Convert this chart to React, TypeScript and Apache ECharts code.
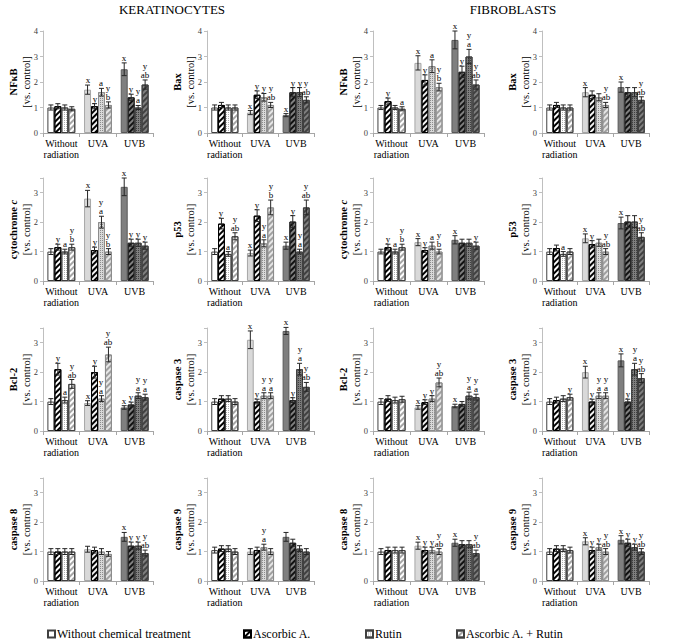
import React, { useEffect, useRef } from 'react';
import * as echarts from 'echarts';

const groups = ['Without\nradiation', 'UVA', 'UVB'];
const treatments = ['Without chemical treatment', 'Ascorbic A.', 'Rutin', 'Ascorbic A. + Rutin'];
const cellTitles = ['KERATINOCYTES', 'FIBROBLASTS'];
const rowMax = [4, 3.5, 3.5, 3.5];

// values[group][treatment]
const kNFkB = [[1.0, 1.05, 1.0, 0.95], [1.7, 1.05, 1.6, 1.1], [2.5, 1.4, 1.0, 1.9]];
const kNFkBErr = [[0.1, 0.1, 0.1, 0.08], [0.18, 0.1, 0.15, 0.12], [0.25, 0.12, 0.08, 0.18]];
const kNFkBSig = [['', '', '', ''], ['x', 'y', 'a', 'y\nb'], ['x', 'y', 'y\na', 'y\nab']];

const kBax = [[1.0, 1.1, 1.0, 1.0], [0.8, 1.5, 1.4, 1.1], [0.7, 1.6, 1.6, 1.3]];
const kBaxErr = [[0.1, 0.1, 0.1, 0.1], [0.08, 0.15, 0.15, 0.1], [0.06, 0.18, 0.18, 0.12]];
const kBaxSig = [['', '', '', ''], ['x', 'y', 'y', 'y\nab'], ['x', 'y', 'y', 'y\nab']];

const fNFkB = [[1.0, 1.25, 1.0, 0.95], [2.75, 2.08, 2.62, 1.8], [3.65, 2.4, 3.0, 1.9]];
const fNFkBErr = [[0.08, 0.12, 0.08, 0.08], [0.28, 0.2, 0.25, 0.15], [0.35, 0.22, 0.28, 0.18]];
const fNFkBSig = [['', 'y', '', 'a'], ['x', 'y', 'a', 'y\nb'], ['x', 'y', 'y\na', 'y\nab']];

const fBax = [[1.0, 1.1, 1.0, 1.0], [1.6, 1.5, 1.4, 1.1], [1.8, 1.6, 1.6, 1.3]];
const fBaxErr = [[0.1, 0.1, 0.1, 0.1], [0.18, 0.15, 0.14, 0.1], [0.2, 0.18, 0.18, 0.12]];
const fBaxSig = [['', '', '', ''], ['x', '', '', 'y\nab'], ['x', '', '', 'y\nab']];

const kCytc = [[1.0, 1.15, 1.0, 1.15], [2.8, 1.05, 2.0, 1.0], [3.2, 1.3, 1.3, 1.2]];
const kCytcErr = [[0.1, 0.1, 0.08, 0.1], [0.28, 0.1, 0.2, 0.1], [0.3, 0.12, 0.12, 0.12]];
const kCytcSig = [['', 'y', 'a', 'y\nb'], ['x', 'y', 'y\na', 'y\nb'], ['x', 'y', 'y', 'y']];

const kP53 = [[1.0, 1.95, 0.92, 1.52], [0.95, 2.22, 1.28, 2.5], [1.2, 2.02, 1.0, 2.5]];
const kP53Err = [[0.1, 0.18, 0.08, 0.12], [0.1, 0.2, 0.12, 0.25], [0.12, 0.2, 0.08, 0.25]];
const kP53Sig = [['', 'y', 'a', 'y\nab'], ['x', 'y', 'y\na', 'y\nb'], ['x', 'y', 'y\na', 'y\nab']];

const fCytc = [[1.0, 1.15, 1.0, 1.15], [1.32, 1.05, 1.2, 1.0], [1.4, 1.3, 1.3, 1.2]];
const fCytcErr = [[0.08, 0.1, 0.08, 0.1], [0.12, 0.08, 0.12, 0.08], [0.14, 0.12, 0.12, 0.12]];
const fCytcSig = [['', 'y', 'a', 'y\nb'], ['x', 'y', 'a', 'y\nb'], ['x', '', '', 'y']];

const fP53 = [[1.0, 1.12, 0.92, 1.0], [1.45, 1.25, 1.3, 1.0], [1.97, 2.02, 2.02, 1.5]];
const fP53Err = [[0.1, 0.1, 0.08, 0.1], [0.15, 0.12, 0.12, 0.1], [0.2, 0.2, 0.2, 0.14]];
const fP53Sig = [['', '', 'a', ''], ['x', 'y', '', 'y\nab'], ['x', '', '', 'y\nab']];

const kBcl2 = [[1.0, 2.1, 1.05, 1.6], [0.95, 2.0, 1.1, 2.6], [0.8, 0.9, 1.2, 1.15]];
const kBcl2Err = [[0.1, 0.2, 0.1, 0.15], [0.08, 0.2, 0.1, 0.25], [0.06, 0.08, 0.1, 0.1]];
const kBcl2Sig = [['', 'y', 'a', 'y\nab'], ['x', 'y', 'y\na', 'y\nab'], ['x', 'y', 'y\na', 'y\na']];

const kCasp3 = [[1.0, 1.1, 1.1, 1.0], [3.1, 1.0, 1.2, 1.2], [3.4, 1.05, 2.1, 1.5]];
const kCasp3Err = [[0.1, 0.1, 0.1, 0.1], [0.3, 0.08, 0.1, 0.1], [0.12, 0.08, 0.2, 0.15]];
const kCasp3Sig = [['', '', '', ''], ['x', 'y', 'y\na', 'y\na'], ['x', 'y', 'y\na', 'y\nab']];

const fBcl2 = [[1.0, 1.1, 1.05, 1.08], [0.8, 0.98, 1.1, 1.65], [0.85, 0.92, 1.2, 1.15]];
const fBcl2Err = [[0.1, 0.1, 0.1, 0.1], [0.06, 0.08, 0.1, 0.15], [0.06, 0.08, 0.12, 0.1]];
const fBcl2Sig = [['', '', '', ''], ['x', 'y', 'y', 'y\nab'], ['x', '', 'y\na', 'y\na']];

const fCasp3 = [[1.0, 1.05, 1.1, 1.15], [2.0, 1.0, 1.2, 1.2], [2.4, 1.0, 2.1, 1.8]];
const fCasp3Err = [[0.1, 0.1, 0.1, 0.1], [0.2, 0.08, 0.1, 0.1], [0.22, 0.08, 0.2, 0.15]];
const fCasp3Sig = [['', '', '', 'y'], ['x', 'y', 'y\na', 'y\na'], ['x', 'y', 'y\na', 'y\nab']];

const kCasp8 = [[1.0, 1.0, 1.0, 1.0], [1.08, 1.05, 1.0, 0.92], [1.5, 1.2, 1.2, 0.95]];
const kCasp8Err = [[0.1, 0.1, 0.1, 0.1], [0.1, 0.1, 0.1, 0.08], [0.15, 0.12, 0.12, 0.1]];
const kCasp8Sig = [['', '', '', ''], ['', '', '', ''], ['x', 'y', 'y', 'y\nab']];

const kCasp9 = [[1.05, 1.1, 1.1, 1.0], [1.0, 1.05, 1.15, 1.0], [1.5, 1.3, 1.1, 1.0]];
const kCasp9Err = [[0.1, 0.1, 0.1, 0.1], [0.1, 0.1, 0.1, 0.1], [0.15, 0.12, 0.1, 0.1]];
const kCasp9Sig = [['', '', '', ''], ['', '', 'y\na', ''], ['', '', '', '']];

const fCasp8 = [[1.0, 1.05, 1.05, 1.05], [1.2, 1.05, 1.05, 1.0], [1.3, 1.25, 1.25, 0.95]];
const fCasp8Err = [[0.1, 0.1, 0.1, 0.1], [0.12, 0.1, 0.1, 0.1], [0.12, 0.12, 0.12, 0.1]];
const fCasp8Sig = [['', '', '', ''], ['x', 'y', 'y', 'y\nab'], ['x', '', '', 'y\nab']];

const fCasp9 = [[1.0, 1.1, 1.1, 1.05], [1.35, 1.05, 1.15, 1.0], [1.4, 1.3, 1.15, 1.0]];
const fCasp9Err = [[0.1, 0.1, 0.1, 0.1], [0.12, 0.1, 0.1, 0.1], [0.14, 0.12, 0.1, 0.1]];
const fCasp9Sig = [['', '', '', ''], ['x', 'y', 'y', 'y\nab'], ['x', 'y', 'y', 'y\nab']];

const panels = [
  { name: '{b|NFκB}', v: kNFkB, e: kNFkBErr, s: kNFkBSig },
  { name: '{b|Bax}', v: kBax, e: kBaxErr, s: kBaxSig },
  { name: '{b|NFκB}', v: fNFkB, e: fNFkBErr, s: fNFkBSig },
  { name: '{b|Bax}', v: fBax, e: fBaxErr, s: fBaxSig },
  { name: '{b|cytochrome }{bi|c}', v: kCytc, e: kCytcErr, s: kCytcSig },
  { name: '{b|p53}', v: kP53, e: kP53Err, s: kP53Sig },
  { name: '{b|cytochrome }{bi|c}', v: fCytc, e: fCytcErr, s: fCytcSig },
  { name: '{b|p53}', v: fP53, e: fP53Err, s: fP53Sig },
  { name: '{b|Bcl-2}', v: kBcl2, e: kBcl2Err, s: kBcl2Sig },
  { name: '{b|caspase 3}', v: kCasp3, e: kCasp3Err, s: kCasp3Sig },
  { name: '{b|Bcl-2}', v: fBcl2, e: fBcl2Err, s: fBcl2Sig },
  { name: '{b|caspase 3}', v: fCasp3, e: fCasp3Err, s: fCasp3Sig },
  { name: '{b|caspase 8}', v: kCasp8, e: kCasp8Err, s: kCasp8Sig },
  { name: '{b|caspase 9}', v: kCasp9, e: kCasp9Err, s: kCasp9Sig },
  { name: '{b|caspase 8}', v: fCasp8, e: fCasp8Err, s: fCasp8Sig },
  { name: '{b|caspase 9}', v: fCasp9, e: fCasp9Err, s: fCasp9Sig },
];

// layout
const colLeft = [43, 207, 373, 542];
const colWidth = [110, 107, 111, 107];
const rowTop = [31, 178, 328, 478];
const rowHeight = [102, 103, 103, 103];
const legendLeft = [47, 243, 365, 456];
const FONT = '"Liberation Serif", "Times New Roman", serif';
const CAT_GAP = 0.24;
const SIG_SIZE = 9;
const SIG_STEP = 9;

const baseFill = [
  ['#ffffff', '#d9d9d9', '#7f7f7f'],
  ['#ffffff', '#f2f2f2', '#7f7f7f'],
  ['#ffffff', '#d9d9d9', '#7f7f7f'],
  ['#ffffff', '#e6e6e6', '#7f7f7f'],
];
const decalColor = [
  null,
  ['#000000', '#000000', '#111111'],
  ['#b0b0b0', '#8c8c8c', '#404040'],
  ['#a6a6a6', '#a0a0a0', '#404040'],
];
const borderCol = [
  ['#404040', '#a6a6a6', '#595959'],
  ['#000000', '#000000', '#262626'],
  ['#404040', '#8c8c8c', '#404040'],
  ['#404040', '#8c8c8c', '#404040'],
];

function makeDecal(t: number, gi: number): any {
  const c = decalColor[t];
  if (!c) return undefined;
  if (t === 1) {
    return { symbol: 'rect', symbolSize: 1, dashArrayX: [1, 0], dashArrayY: [1.5, 1.5], rotation: -Math.PI / 4, color: c[gi] };
  }
  if (t === 2) {
    return { symbol: 'rect', symbolSize: 1, dashArrayX: [1, 1], dashArrayY: [1, 1], rotation: 0, color: c[gi] };
  }
  return { symbol: 'rect', symbolSize: 1, dashArrayX: [1, 0], dashArrayY: [1.5, 2], rotation: -Math.PI / 4, color: c[gi] };
}

function itemStyleFor(t: number, gi: number): any {
  const st: any = { color: baseFill[t][gi], borderColor: borderCol[t][gi], borderWidth: 1 };
  const d = makeDecal(t, gi);
  if (d) st.decal = d;
  else st.decal = 'none';
  return st;
}

function buildOption(): any {
  const grid: any[] = [];
  const xAxis: any[] = [];
  const yAxis: any[] = [];
  const series: any[] = [];

  panels.forEach((p, i) => {
    const r = Math.floor(i / 4);
    const c = i % 4;
    grid.push({ left: colLeft[c], top: rowTop[r], width: colWidth[c], height: rowHeight[r], containLabel: false });
    xAxis.push({
      type: 'category', gridIndex: i, data: groups,
      axisLine: { lineStyle: { color: '#a6a6a6', width: 1 } },
      axisTick: { show: true, length: 4, lineStyle: { color: '#a6a6a6' } },
      axisLabel: { fontFamily: FONT, fontSize: 10, color: '#000', lineHeight: 11, margin: 5, interval: 0 },
    });
    yAxis.push({
      type: 'value', gridIndex: i, min: 0, max: rowMax[r], interval: 1,
      splitLine: { show: false },
      axisLine: { show: true, lineStyle: { color: '#bfbfbf' } },
      axisTick: { show: true, length: 3, lineStyle: { color: '#bfbfbf' } },
      axisLabel: {
        fontFamily: FONT, fontSize: 8.5, color: '#404040', margin: 5,
        formatter: (v: number) => (Number.isInteger(v) ? String(v) : ''),
      },
      name: p.name + '\n{n|[vs. control]}',
      nameLocation: 'middle', nameRotate: 90, nameGap: 10, nameMoveOverlap: false,
      nameTextStyle: {
        fontFamily: FONT, color: '#000',
        rich: {
          b: { fontFamily: FONT, fontSize: 10.5, fontWeight: 'bold', color: '#000', lineHeight: 13 },
          bi: { fontFamily: FONT, fontSize: 10.5, fontWeight: 'bold', fontStyle: 'italic', color: '#000', lineHeight: 13 },
          n: { fontFamily: FONT, fontSize: 10.5, color: '#000', lineHeight: 13 },
        },
      },
    });
    treatments.forEach((tn, t) => {
      series.push({
        type: 'bar', name: tn, xAxisIndex: i, yAxisIndex: i,
        barGap: '0%', barCategoryGap: (CAT_GAP * 100) + '%',
        itemStyle: itemStyleFor(t, 0),
        data: groups.map((g, gi) => ({ value: p.v[gi][t], itemStyle: itemStyleFor(t, gi) })),
        silent: true,
      });
    });
    const errData: number[][] = [];
    groups.forEach((g, gi) => {
      treatments.forEach((tn, t) => {
        errData.push([gi, t, p.v[gi][t], p.e[gi][t]]);
      });
    });
    const sig = p.s;
    series.push({
      type: 'custom', xAxisIndex: i, yAxisIndex: i, silent: true, z: 5,
      encode: { x: 0, y: 2 },
      data: errData,
      renderItem: (params: any, api: any) => {
        const gi = api.value(0);
        const t = api.value(1);
        const v = api.value(2);
        const e = api.value(3);
        const top = api.coord([gi, v + e]);
        const bot = api.coord([gi, Math.max(0, v - e)]);
        const cw = api.size([1, 0])[0];
        const bw = (cw * (1 - CAT_GAP)) / 4;
        const x = top[0] + (t - 1.5) * bw;
        const cap = 2.5;
        const col = '#262626';
        const children: any[] = [
          { type: 'line', shape: { x1: x, y1: top[1], x2: x, y2: bot[1] }, style: { stroke: col, lineWidth: 1 } },
          { type: 'line', shape: { x1: x - cap, y1: top[1], x2: x + cap, y2: top[1] }, style: { stroke: col, lineWidth: 1 } },
          { type: 'line', shape: { x1: x - cap, y1: bot[1], x2: x + cap, y2: bot[1] }, style: { stroke: col, lineWidth: 1 } },
        ];
        const lab = sig[gi][t];
        if (lab) {
          const lines = lab.split('\n');
          const n = lines.length;
          lines.forEach((ln: string, k: number) => {
            children.push({
              type: 'text',
              style: {
                text: ln, x: Math.round(x), y: Math.round(top[1] - 1 - (n - 1 - k) * SIG_STEP),
                align: 'center', verticalAlign: 'bottom',
                fontFamily: FONT, fontSize: SIG_SIZE, fill: '#000',
              },
            });
          });
        }
        return { type: 'group', children };
      },
    });
  });

  const legend = treatments.map((tn, i) => ({
    data: [tn], left: legendLeft[i], top: 628, padding: 0,
    itemWidth: 7, itemHeight: 7, itemGap: 0, icon: 'rect', selectedMode: false,
    textStyle: { fontFamily: FONT, fontSize: 12, color: '#000', padding: [0, 0, 0, -3] },
  }));

  return {
    animation: false,
    backgroundColor: '#ffffff',
    grid, xAxis, yAxis, series, legend,
    graphic: [
      { type: 'text', x: 172, y: 3, style: { text: cellTitles[0], align: 'center', fontFamily: FONT, fontSize: 13, fill: '#000' } },
      { type: 'text', x: 513, y: 3, style: { text: cellTitles[1], align: 'center', fontFamily: FONT, fontSize: 13, fill: '#000' } },
    ],
  };
}

export default function App() {
  const ref = useRef<HTMLDivElement>(null);
  useEffect(() => {
    const chart = echarts.init(ref.current!, null, { renderer: 'svg' });
    chart.setOption(buildOption());
    return () => chart.dispose();
  }, []);
  return <div ref={ref} style={{ width: 685, height: 643, position: 'absolute', left: 0, top: 0 }} />;
}
